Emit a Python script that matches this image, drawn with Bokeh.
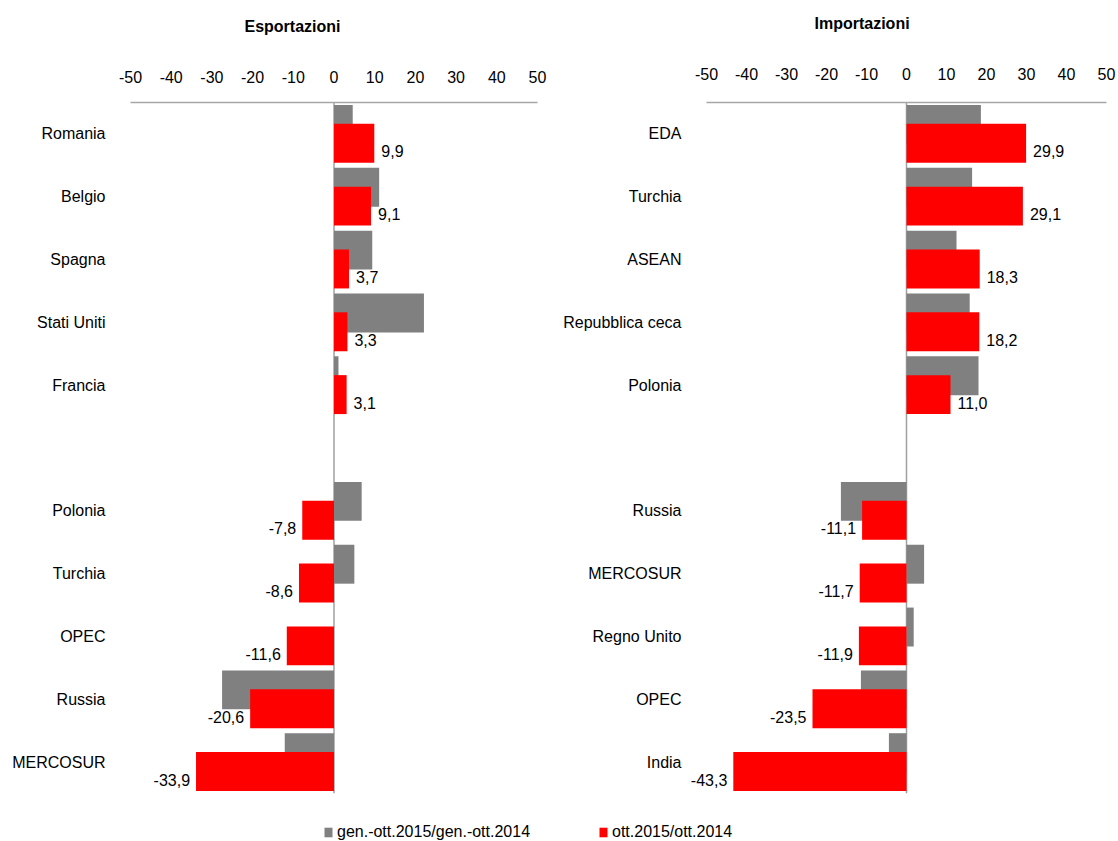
from bokeh.plotting import figure
from bokeh.models import FactorRange, Range1d, FixedTicker, Span, ColumnDataSource, Legend, LegendItem
from bokeh.transform import dodge
from bokeh.layouts import row, column
from bokeh.core.properties import value
from bokeh.embed import file_html
from bokeh.resources import INLINE

# ---------------- data ----------------
exp_categories = ["Romania", "Belgio", "Spagna", "Stati Uniti", "Francia",
                  "Polonia", "Turchia", "OPEC", "Russia", "MERCOSUR"]
exp_ytd = [4.6, 11.1, 9.4, 22.1, 1.1, 6.8, 5.0, 0.0, -27.5, -12.1]
exp_oct = [9.9, 9.1, 3.7, 3.3, 3.1, -7.8, -8.6, -11.6, -20.6, -33.9]

imp_categories = ["EDA", "Turchia", "ASEAN", "Repubblica ceca", "Polonia",
                  "Russia", "MERCOSUR", "Regno Unito", "OPEC", "India"]
imp_ytd = [18.6, 16.4, 12.5, 15.8, 18.0, -16.4, 4.4, 1.8, -11.4, -4.4]
imp_oct = [29.9, 29.1, 18.3, 18.2, 11.0, -11.1, -11.7, -11.9, -23.5, -43.3]

series_names = ["gen.-ott.2015/gen.-ott.2014", "ott.2015/ott.2014"]
panel_titles = ["Esportazioni", "Importazioni"]
x_ticks = [-50, -40, -30, -20, -10, 0, 10, 20, 30, 40, 50]

GRAY = "#808080"
RED = "#ff0000"
FONT = "Liberation Sans"
FS = "16px"


def make_panel(title, cats, ytd, octv, x_start, width, height, b_left, b_top,
               b_right, b_bottom, t_offset, t_gap, tick_standoff, y_standoff):
    factors = cats[:5] + [" "] + cats[5:]
    p = figure(width=width, height=height,
               y_range=FactorRange(factors=list(reversed(factors))),
               x_range=Range1d(x_start, 50), x_axis_location="above",
               output_backend="svg", toolbar_location=None,
               min_border_left=b_left, min_border_top=b_top,
               min_border_right=b_right, min_border_bottom=b_bottom,
               title=title)
    p.outline_line_color = None
    p.xgrid.grid_line_color = None
    p.ygrid.grid_line_color = None

    p.title.text_font = FONT
    p.title.text_font_size = FS
    p.title.text_font_style = "bold"
    p.title.text_color = "#000000"
    p.title.align = "left"
    p.title.offset = t_offset
    p.title.standoff = 10

    xa = p.xaxis[0]
    xa.ticker = FixedTicker(ticks=x_ticks)
    xa.major_label_overrides = {t: str(t) for t in x_ticks}
    xa.bounds = (-50, 50)
    xa.axis_line_color = "#a6a6a6"
    xa.axis_line_width = 1.5
    xa.major_tick_line_color = None
    xa.minor_tick_line_color = None
    xa.major_tick_out = 0
    xa.major_tick_in = 0
    xa.minor_tick_out = 0
    xa.major_label_text_font = FONT
    xa.major_label_text_font_size = FS
    xa.major_label_text_color = "#000000"
    xa.major_label_standoff = tick_standoff
    # blank spacer label: lifts the title panel to its place
    xa.axis_label = " "
    xa.axis_label_text_font = FONT
    xa.axis_label_text_font_size = FS
    xa.axis_label_standoff = t_gap

    ya = p.yaxis[0]
    ya.axis_line_color = None
    ya.major_tick_line_color = None
    ya.minor_tick_line_color = None
    ya.major_tick_out = 0
    ya.major_tick_in = 0
    ya.minor_tick_out = 0
    ya.major_label_text_font = FONT
    ya.major_label_text_font_size = FS
    ya.major_label_text_color = "#000000"
    ya.major_label_standoff = y_standoff

    p.add_layout(Span(location=0, dimension="height", line_color="#a0a0a0",
                      line_width=1.5, level="underlay"))

    labels = [("%.1f" % v).replace(".", ",") for v in octv]
    src = ColumnDataSource(dict(
        cat=cats, ytd=ytd, oct=octv, lab=labels,
        align=["left" if v >= 0 else "right" for v in octv],
        xoff=[7 if v >= 0 else -6 for v in octv],
    ))
    p.hbar(y=dodge("cat", 0.15, range=p.y_range), left=0, right="ytd",
           height=0.62, fill_color=GRAY, line_color=None, source=src)
    p.hbar(y=dodge("cat", -0.15, range=p.y_range), left=0, right="oct",
           height=0.62, fill_color=RED, line_color=None, source=src)
    p.text(x="oct", y=dodge("cat", -0.15, range=p.y_range), text="lab",
           x_offset="xoff", y_offset=8, text_align="align",
           text_baseline="middle", text_font=value(FONT),
           text_font_size=FS, text_color="#000000", source=src)
    return p


p1 = make_panel(panel_titles[0], exp_categories, exp_ytd, exp_oct, -50,
                560, 800, 130, 102, 23, 5, 114, 8, 20, 25)
p2 = make_panel(panel_titles[1], imp_categories, imp_ytd, imp_oct, -55.5,
                558, 800, 124, 100, 12, 7, 130, 8, 23, 3)

# legend strip (zero-size proxy bars carry the legend swatches)
p3 = figure(width=1118, height=41, x_range=Range1d(0, 1), y_range=Range1d(0, 1),
            output_backend="svg", toolbar_location=None, min_border=0)
p3.axis.visible = False
p3.xgrid.grid_line_color = None
p3.ygrid.grid_line_color = None
p3.outline_line_color = None
proxy = ColumnDataSource(dict(y=[0], left=[0], right=[0]))
r_gray = p3.hbar(y="y", left="left", right="right", height=0, fill_color=GRAY,
                 line_color=None, source=proxy)
r_red = p3.hbar(y="y", left="left", right="right", height=0, fill_color=RED,
                line_color=None, source=proxy)
for rend, name, loc in [(r_gray, series_names[0], (323, -1)), (r_red, series_names[1], (598, -1))]:
    leg = Legend(items=[LegendItem(label=name, renderers=[rend])], location=loc,
                 orientation="horizontal", border_line_color=None,
                 background_fill_alpha=0, padding=0, margin=0,
                 glyph_width=10, glyph_height=12, label_standoff=4,
                 label_text_font=FONT, label_text_font_size=FS,
                 label_text_color="#000000", label_height=20)
    p3.add_layout(leg)

layout = column(row(p1, p2), p3)
open("out.html", "w").write(file_html(layout, INLINE))
